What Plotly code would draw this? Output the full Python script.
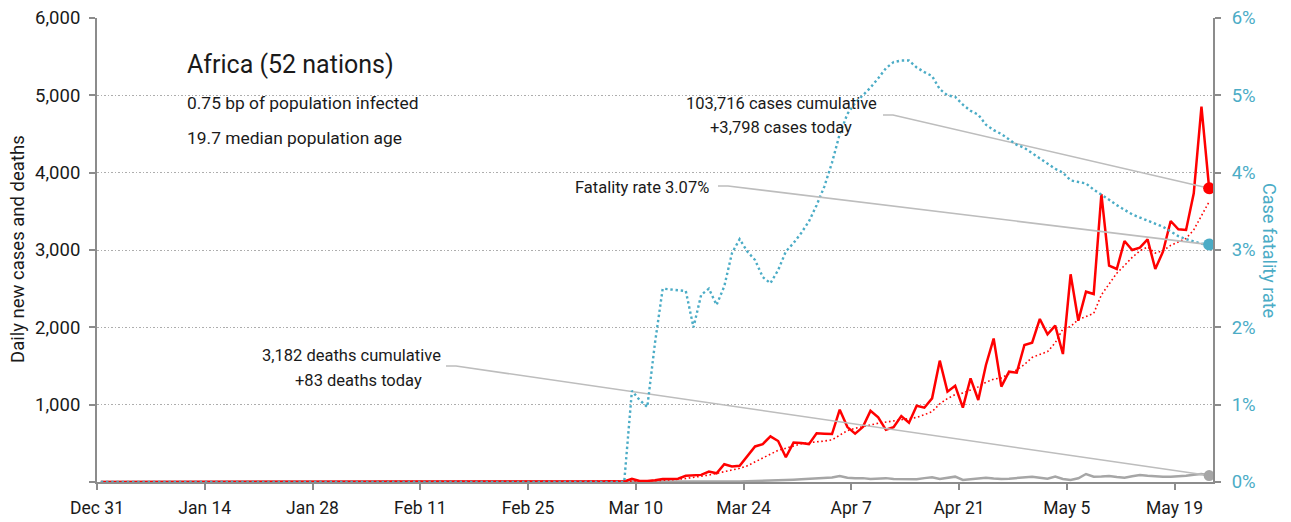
import pandas as pd
import plotly.graph_objects as go

# ---------------- data ----------------
start_date = "2019-12-31"
end_date = "2020-05-23"

# daily new cases, Dec 31 .. May 23 (145 days)
cases_daily = (
    [0] * 45 + [1] + [0] * 12 +
    [1, 2, 2, 4, 3, 5, 6, 8, 10, 10, 8, 40,            # idx 58-69
     12, 14, 22, 40, 40, 42, 80, 82, 92, 135,          # 70-79
     112, 230, 200, 210, 335, 460, 490, 590, 530, 320, # 80-89
     510, 505, 490, 630, 625, 620, 935, 710, 625, 710, # 90-99
     920, 836, 675, 710, 853, 767, 987, 961, 1082, 1569,   # 100-109
     1168, 1245, 961, 1341, 1060, 1513, 1855, 1233, 1427, 1414,  # 110-119
     1772, 1802, 2108, 1910, 2022, 1655, 2686, 2086, 2461, 2431, # 120-129
     3724, 2797, 2754, 3116, 3000, 3030, 3138, 2754, 2978, 3375, # 130-139
     3268, 3259, 3733, 4853, 3798]                      # 140-144
)

# smoothed (dotted red) cases
cases_avg = (
    [0] * 58 +
    [1, 1, 2, 2, 3, 3, 4, 5, 6, 7, 8, 12,              # 58-69
     12, 14, 18, 22, 26, 35, 45, 56, 75, 90,            # 70-79
     110, 135, 155, 177, 210, 260, 306, 362, 410, 436,  # 80-89
     470, 495, 508, 515, 530, 545, 610, 665, 694, 720,  # 90-99
     737, 760, 778, 790, 805, 820, 835, 870, 910, 1010, # 100-109
     1080, 1130, 1150, 1190, 1230, 1290, 1330, 1345, 1400, 1450,  # 110-119
     1520, 1610, 1650, 1685, 1800, 1980, 2010, 2100, 2140, 2180,  # 120-129
     2420, 2560, 2700, 2800, 2905, 2990, 3040, 2960, 2990, 3060,  # 130-139
     3100, 3150, 3260, 3440, 3625]                       # 140-144
)

# daily new deaths
deaths_daily = (
    [0] * 64 +
    [1, 0, 0, 1, 0, 1,                                  # 64-69
     1, 1, 2, 2, 3, 2, 3, 3, 4, 4,                      # 70-79
     4, 5, 6, 8, 10, 12, 15, 18, 22, 26,                # 80-89
     30, 35, 42, 45, 50, 58, 78, 55, 48, 50,            # 90-99
     40, 45, 50, 38, 35, 38, 35, 50, 61, 39,            # 100-109
     55, 69, 26, 39, 45, 56, 45, 39, 43, 55,            # 110-119
     61, 69, 55, 43, 69, 40, 26, 48, 103, 69,           # 120-129
     72, 78, 65, 56, 75, 91, 80, 70, 69, 69,            # 130-139
     72, 80, 95, 103, 83]                               # 140-144
)

# case fatality rate, %
cfr_pct = (
    [0] * 69 +
    [1.18,                                              # 69
     1.06, 0.97, 1.80, 2.50, 2.49, 2.48, 2.47, 2.00, 2.42, 2.50,   # 70-79
     2.29, 2.53, 2.96, 3.14, 2.98, 2.87, 2.65, 2.57, 2.74, 2.98,   # 80-89
     3.09, 3.22, 3.37, 3.58, 3.82, 4.13, 4.50, 4.76, 4.90, 5.00,   # 90-99
     5.10, 5.22, 5.35, 5.43, 5.45, 5.45, 5.36, 5.30, 5.25, 5.08,   # 100-109
     5.00, 4.98, 4.88, 4.80, 4.75, 4.62, 4.55, 4.50, 4.43, 4.36,   # 110-119
     4.32, 4.25, 4.18, 4.12, 4.05, 4.00, 3.90, 3.88, 3.86, 3.78,   # 120-129
     3.72, 3.65, 3.58, 3.52, 3.46, 3.42, 3.38, 3.34, 3.30, 3.24,   # 130-139
     3.18, 3.14, 3.11, 3.08, 3.07]                                  # 140-144
)

tick_dates = ["2019-12-31", "2020-01-14", "2020-01-28", "2020-02-11", "2020-02-25",
              "2020-03-10", "2020-03-24", "2020-04-07", "2020-04-21", "2020-05-05",
              "2020-05-19"]
tick_labels = ["Dec 31", "Jan 14", "Jan 28", "Feb 11", "Feb 25", "Mar 10",
               "Mar 24", "Apr 7", "Apr 21", "May 5", "May 19"]

y_ticks = [0, 1000, 2000, 3000, 4000, 5000, 6000]
y_tick_labels = ["", "1,000", "2,000", "3,000", "4,000", "5,000", "6,000"]
y2_ticks = [0, 1, 2, 3, 4, 5, 6]
y2_tick_labels = ["0%", "1%", "2%", "3%", "4%", "5%", "6%"]

title = "Africa (52 nations)"
sub1 = "0.75 bp of population infected"
sub2 = "19.7 median population age"
cases_cum = "103,716 cases cumulative"
cases_today = "+3,798 cases today"
fatality_txt = "Fatality rate 3.07%"
deaths_cum = "3,182 deaths cumulative"
deaths_today = "+83 deaths today"

# ---------------- layout constants ----------------
W, H = 1291, 522
ML, MR, MT, MB = 97, 78, 18, 40
PW, PH = W - ML - MR, H - MT - MB
x0 = pd.Timestamp("2019-12-31")
x1 = pd.Timestamp("2020-05-24")
ndays = (x1 - x0).days

FONT = "Roboto, sans-serif"
RED = "#ff0000"
BLUE = "#4bacc6"
GRAY = "#a6a6a6"
AXIS = "#8c8c8c"
TXT = "#1a1a1a"
LEADER = "#bdbdbd"

dates = pd.date_range(start_date, end_date, freq="D") + pd.Timedelta(hours=12)


def px_date(px):
    return x0 + pd.Timedelta(days=(px - ML) / PW * ndays)


def px_cases(py):
    return (MT + PH - py) / PH * 6000


def px_pct(py):
    return (MT + PH - py) / PH * 6


def paper_x(px):
    return px / W


def paper_y(py):
    return 1 - py / H


fig = go.Figure()

fig.add_trace(go.Scatter(x=dates, y=deaths_daily, mode="lines",
                         line=dict(color=GRAY, width=2.5), hoverinfo="skip"))
fig.add_trace(go.Scatter(x=dates, y=cases_avg, mode="lines",
                         line=dict(color=RED, width=1.6, dash="1.6px,2.6px"), hoverinfo="skip"))
fig.add_trace(go.Scatter(x=dates, y=cases_daily, mode="lines",
                         line=dict(color=RED, width=2.5), hoverinfo="skip"))
fig.add_trace(go.Scatter(x=dates, y=cfr_pct, mode="lines", yaxis="y2",
                         line=dict(color=BLUE, width=2.4, dash="2.4px,2.8px"), hoverinfo="skip"))

last = dates[-1]
leaders = [
    (883, 115, cases_daily[-1], "y"),
    (718, 186, cfr_pct[-1], "y2"),
    (446, 366, deaths_daily[-1], "y"),
]
for lx, ly, val, ax in leaders:
    conv = px_pct if ax == "y2" else px_cases
    fig.add_trace(go.Scatter(
        x=[px_date(lx), px_date(lx + 10), last],
        y=[conv(ly), conv(ly), val],
        mode="lines", yaxis=ax, line=dict(color=LEADER, width=1.6), hoverinfo="skip"))

fig.add_trace(go.Scatter(x=[last], y=[deaths_daily[-1]], mode="markers",
                         marker=dict(color=GRAY, size=11), hoverinfo="skip"))
fig.add_trace(go.Scatter(x=[last], y=[cases_daily[-1]], mode="markers",
                         marker=dict(color=RED, size=12), hoverinfo="skip"))
fig.add_trace(go.Scatter(x=[last], y=[cfr_pct[-1]], mode="markers", yaxis="y2",
                         marker=dict(color=BLUE, size=12), hoverinfo="skip"))

annotations = []


def txt(px, py, text, size, xanchor="left", color=TXT, angle=0):
    annotations.append(dict(
        x=paper_x(px), y=paper_y(py), xref="paper", yref="paper", text=text,
        showarrow=False, xanchor=xanchor, yanchor="middle", textangle=angle,
        font=dict(family=FONT, size=size, color=color)))


txt(185, 64, title, 25)
txt(185, 103, sub1, 17.4)
txt(185, 138, sub2, 17.4)
txt(781, 103, cases_cum, 16.5, "center")
txt(781, 128, cases_today, 16.5, "center")
txt(711, 187, fatality_txt, 16.5, "right")
txt(351, 355, deaths_cum, 16.5, "center")
txt(358, 380, deaths_today, 16.5, "center")
txt(18, 249, "Daily new cases and deaths", 18.5, "center", TXT, -90)
txt(1270, 250, "Case fatality rate", 18, "center", BLUE, 90)

fig.update_layout(
    width=W, height=H,
    margin=dict(l=0, r=0, t=0, b=0, pad=0, autoexpand=False),
    paper_bgcolor="white", plot_bgcolor="white",
    showlegend=False,
    font=dict(family=FONT, size=18, color=TXT),
    annotations=annotations,
    xaxis=dict(
        type="date", range=[x0, x1], tickvals=tick_dates, ticktext=tick_labels,
        domain=[ML / W, (W - MR) / W], automargin=False,
        showgrid=False, zeroline=False, showline=True, linecolor=AXIS, linewidth=2,
        ticks="outside", ticklen=6, tickwidth=2, tickcolor=AXIS,
        ticklabelstandoff=3,
        tickfont=dict(family=FONT, size=17.5, color=TXT), fixedrange=True),
    yaxis=dict(
        range=[0, 6000], tickvals=y_ticks, ticktext=y_tick_labels,
        domain=[MB / H, (H - MT) / H], automargin=False,
        showgrid=True, gridcolor="#adadad", gridwidth=1, griddash="1.5px,2px",
        zeroline=False, showline=True, linecolor=AXIS, linewidth=2,
        ticks="outside", ticklen=6, tickwidth=2, tickcolor=AXIS,
        ticklabelstandoff=5,
        tickfont=dict(family=FONT, size=18.5, color=TXT), fixedrange=True),
    yaxis2=dict(
        overlaying="y", side="right", range=[0, 6], tickvals=y2_ticks,
        ticktext=y2_tick_labels, showgrid=False, zeroline=False, automargin=False,
        showline=True, linecolor=AXIS, linewidth=2,
        ticks="outside", ticklen=6, tickwidth=2, tickcolor=AXIS,
        ticklabelstandoff=7,
        tickfont=dict(family=FONT, size=18.5, color=BLUE), fixedrange=True),
)

fig.write_html("out.html", config={"displayModeBar": False},
               post_script="document.body.style.margin='0px';")
